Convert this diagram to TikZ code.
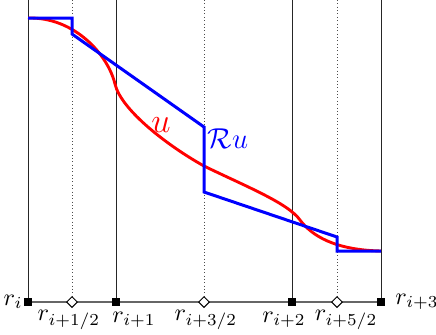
\documentclass[tikz,border=0pt]{standalone}
\usetikzlibrary{shapes.geometric}
\begin{document}
\begin{tikzpicture}[x=0.4167pt,y=-0.4167pt,
  gridline/.style={black!85,line width=0.4pt},
  halfline/.style={black!70,densely dotted,line width=0.4pt},
  axisline/.style={black!60,line width=0.7pt},
  fullpt/.style={draw=black,fill=black,rectangle,minimum size=3.3pt,inner sep=0pt},
  halfpt/.style={draw=black,fill=white,diamond,minimum size=4.6pt,inner sep=0pt,line width=0.4pt},
  ucurve/.style={red,line width=1.2pt},
  rcurve/.style={blue,line width=1.25pt},
  lbl/.style={inner sep=0pt}]
\useasboundingbox (0,0) rectangle (436,334);
% vertical lines
\foreach \x/\n in {28/a,116/b,292/c,381/d} {
  \coordinate (t\n) at (\x,0);
  \coordinate (p\n) at (\x,302);
  \draw[gridline] (t\n) -- (p\n);
}
\foreach \x/\n in {72/h1,204/h2,337/h3} {
  \coordinate (t\n) at (\x,0);
  \coordinate (p\n) at (\x,302);
  \draw[halfline] (t\n) -- (p\n);
}
\draw[axisline] (pa) -- (pd);
% red curve u
\coordinate (u0) at (28,18);
\coordinate (u1) at (115,84);
\coordinate (u2) at (204,166);
\coordinate (u3) at (300,220);
\coordinate (u4) at (381,251);
\draw[ucurve] (u0) .. controls (75,17) and (108,55) .. (u1)
  .. controls (121,110) and (168,146) .. (u2)
  .. controls (245,186) and (288,203) .. (u3)
  .. controls (312,236) and (335,250) .. (u4);
% blue Ru
\coordinate (b0) at (28,18);
\coordinate (b1) at (72,18);
\coordinate (b2) at (72,34);
\coordinate (b3) at (204,127);
\coordinate (b4) at (204,192);
\coordinate (b5) at (337,237);
\coordinate (b6) at (337,251);
\coordinate (b7) at (381,251);
\draw[rcurve] (b0) -- (b1) -- (b2) -- (b3) -- (b4) -- (b5) -- (b6) -- (b7);
% markers
\foreach \n in {a,b,c,d} \node[fullpt] (m\n) at (p\n) {};
\foreach \n in {h1,h2,h3} \node[halfpt] (m\n) at (p\n) {};
% labels
\node[lbl,anchor=east] (la) at (23,302) {$r_i$};
\node[lbl,anchor=west] (ld) at (395,302) {$r_{i+3}$};
\node[lbl] (lh1) at (69,320) {$r_{i+1/2}$};
\node[lbl] (lb) at (134,320) {$r_{i+1}$};
\node[lbl] (lh2) at (206,320) {$r_{i+3/2}$};
\node[lbl] (lc) at (284,320) {$r_{i+2}$};
\node[lbl] (lh3) at (346,320) {$r_{i+5/2}$};
\node[lbl,red] (lu) at (161,125) {\fontsize{15}{18}\selectfont $u$};
\node[lbl,blue] (lr) at (228,139) {\large $\mathcal{R}u$};
\end{tikzpicture}
\end{document}
